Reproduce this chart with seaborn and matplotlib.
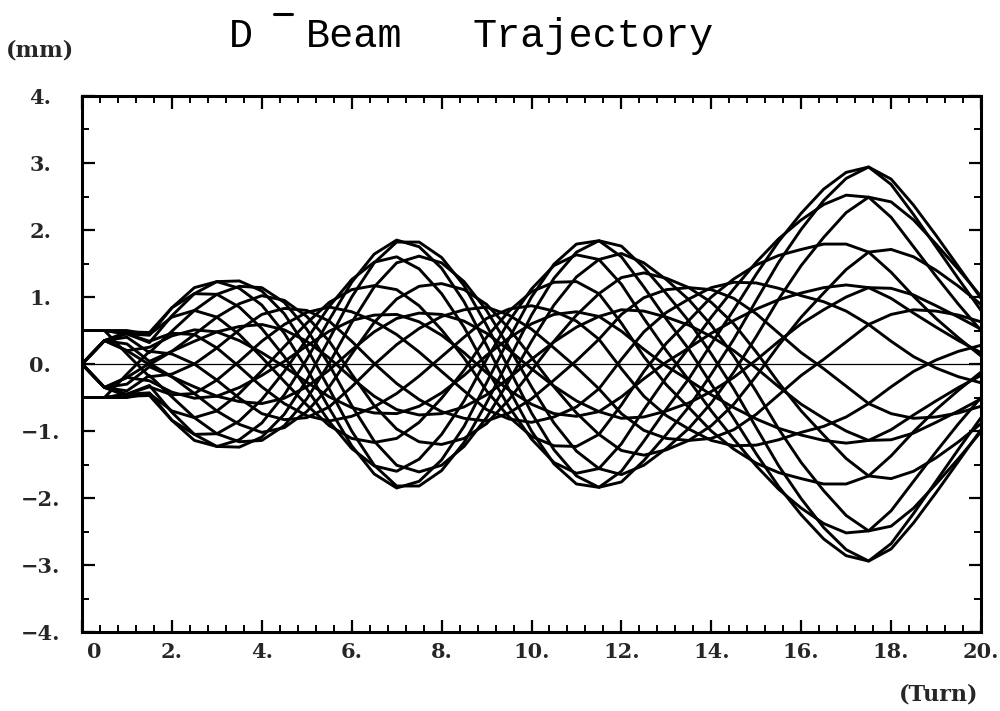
import matplotlib
matplotlib.use("Agg")
import matplotlib.pyplot as plt
from matplotlib.lines import Line2D
from matplotlib.ticker import MultipleLocator
from matplotlib.transforms import ScaledTranslation
import pandas as pd
import seaborn as sns

# Turn number of each sample (every half turn)
turns = [i * 0.5 for i in range(41)]

# Horizontal position (mm) of each tracked particle at each sampled turn
p01 = [0.5, 0.5, 0.45, 0.32, 0.72, 1.05, 1.23, 1.24, 1.09, 0.75, 0.24, -0.37, -1.00, -1.51, -1.82, -1.82, -1.59, -1.17, -0.58, 0.07, 0.73, 1.28, 1.67, 1.84, 1.76, 1.44, 1.05, 0.64, 0.15, -0.37, -0.95, -1.52, -2.01, -2.44, -2.77, -2.94, -2.76, -2.37, -1.92, -1.45, -0.98]
p02 = [0.0, 0.35, 0.40, 0.17, 0.49, 0.80, 1.04, 1.16, 1.14, 0.92, 0.52, -0.01, -0.62, -1.15, -1.51, -1.61, -1.51, -1.23, -0.80, -0.25, 0.34, 0.88, 1.30, 1.56, 1.65, 1.51, 1.26, 0.96, 0.58, 0.12, -0.41, -0.97, -1.47, -1.89, -2.26, -2.49, -2.42, -2.15, -1.79, -1.41, -1.01]
p03 = [0.0, 0.35, 0.20, -0.01, 0.19, 0.44, 0.70, 0.90, 1.02, 0.95, 0.71, 0.34, -0.15, -0.62, -0.97, -1.16, -1.20, -1.11, -0.89, -0.53, -0.10, 0.34, 0.73, 1.05, 1.29, 1.36, 1.28, 1.14, 0.92, 0.60, 0.18, -0.28, -0.70, -1.06, -1.41, -1.67, -1.71, -1.60, -1.40, -1.16, -0.89]
p04 = [0.5, 0.5, 0.15, -0.19, -0.15, 0.00, 0.24, 0.51, 0.74, 0.83, 0.80, 0.64, 0.34, 0.01, -0.29, -0.53, -0.71, -0.81, -0.85, -0.73, -0.52, -0.24, 0.05, 0.37, 0.74, 0.99, 1.11, 1.14, 1.11, 0.98, 0.75, 0.46, 0.17, -0.07, -0.33, -0.59, -0.74, -0.81, -0.79, -0.73, -0.63]
p05 = [0.0, -0.35, -0.45, -0.34, -0.46, -0.44, -0.24, 0.04, 0.34, 0.59, 0.77, 0.85, 0.78, 0.64, 0.44, 0.18, -0.11, -0.40, -0.68, -0.82, -0.87, -0.79, -0.64, -0.37, 0.07, 0.48, 0.77, 0.97, 1.14, 1.22, 1.21, 1.13, 1.02, 0.93, 0.79, 0.59, 0.34, 0.11, -0.06, -0.19, -0.28]
p06 = [-0.5, -0.5, -0.5, -0.44, -0.70, -0.80, -0.70, -0.44, -0.10, 0.26, 0.61, 0.92, 1.11, 1.17, 1.11, 0.87, 0.51, 0.09, -0.40, -0.79, -1.08, -1.22, -1.23, -1.05, -0.61, -0.11, 0.31, 0.65, 1.00, 1.27, 1.48, 1.62, 1.71, 1.79, 1.79, 1.67, 1.37, 1.01, 0.68, 0.39, 0.12]
p07 = [0.0, -0.35, -0.48, -0.47, -0.84, -1.05, -1.04, -0.85, -0.53, -0.11, 0.37, 0.86, 1.26, 1.52, 1.60, 1.42, 1.05, 0.55, -0.07, -0.64, -1.12, -1.47, -1.63, -1.56, -1.19, -0.68, -0.20, 0.24, 0.70, 1.12, 1.52, 1.87, 2.15, 2.38, 2.52, 2.49, 2.19, 1.75, 1.31, 0.89, 0.50]
p08 = [-0.5, -0.5, -0.45, -0.43, -0.84, -1.14, -1.23, -1.13, -0.88, -0.46, 0.07, 0.66, 1.22, 1.64, 1.85, 1.75, 1.43, 0.93, 0.28, -0.38, -1.00, -1.49, -1.79, -1.84, -1.60, -1.15, -0.67, -0.22, 0.30, 0.81, 1.34, 1.83, 2.25, 2.61, 2.86, 2.94, 2.68, 2.23, 1.75, 1.27, 0.80]
p09 = [0.0, 0.35, 0.30, 0.04, 0.19, 0.34, 0.48, 0.56, 0.59, 0.51, 0.34, 0.09, -0.21, -0.48, -0.68, -0.76, -0.74, -0.64, -0.46, -0.21, 0.07, 0.33, 0.55, 0.71, 0.81, 0.79, 0.70, 0.58, 0.41, 0.20, -0.06, -0.34, -0.60, -0.81, -1.00, -1.14, -1.13, -1.03, -0.87, -0.70, -0.52]
p10 = [0.0, -0.35, -0.20, -0.25, -0.42, -0.51, -0.48, -0.35, -0.17, 0.04, 0.27, 0.49, 0.65, 0.73, 0.74, 0.63, 0.43, 0.17, -0.13, -0.39, -0.60, -0.74, -0.78, -0.71, -0.49, -0.22, 0.03, 0.24, 0.46, 0.65, 0.82, 0.96, 1.06, 1.14, 1.18, 1.14, 0.98, 0.76, 0.55, 0.35, 0.17]
p11 = [-0.5, -0.5, -0.45, -0.32, -0.72, -1.05, -1.23, -1.24, -1.09, -0.75, -0.24, 0.37, 1.00, 1.51, 1.82, 1.82, 1.59, 1.17, 0.58, -0.07, -0.73, -1.28, -1.67, -1.84, -1.76, -1.44, -1.05, -0.64, -0.15, 0.37, 0.95, 1.52, 2.01, 2.44, 2.77, 2.94, 2.76, 2.37, 1.92, 1.45, 0.98]
p12 = [0.0, -0.35, -0.40, -0.17, -0.49, -0.80, -1.04, -1.16, -1.14, -0.92, -0.52, 0.01, 0.62, 1.15, 1.51, 1.61, 1.51, 1.23, 0.80, 0.25, -0.34, -0.88, -1.30, -1.56, -1.65, -1.51, -1.26, -0.96, -0.58, -0.12, 0.41, 0.97, 1.47, 1.89, 2.26, 2.49, 2.42, 2.15, 1.79, 1.41, 1.01]
p13 = [0.0, -0.35, -0.20, 0.01, -0.19, -0.44, -0.70, -0.90, -1.02, -0.95, -0.71, -0.34, 0.15, 0.62, 0.97, 1.16, 1.20, 1.11, 0.89, 0.53, 0.10, -0.34, -0.73, -1.05, -1.29, -1.36, -1.28, -1.14, -0.92, -0.60, -0.18, 0.28, 0.70, 1.06, 1.41, 1.67, 1.71, 1.60, 1.40, 1.16, 0.89]
p14 = [-0.5, -0.5, -0.15, 0.19, 0.15, 0.00, -0.24, -0.51, -0.74, -0.83, -0.80, -0.64, -0.34, -0.01, 0.29, 0.53, 0.71, 0.81, 0.85, 0.73, 0.52, 0.24, -0.05, -0.37, -0.74, -0.99, -1.11, -1.14, -1.11, -0.98, -0.75, -0.46, -0.17, 0.07, 0.33, 0.59, 0.74, 0.81, 0.79, 0.73, 0.63]
p15 = [0.0, 0.35, 0.45, 0.34, 0.46, 0.44, 0.24, -0.04, -0.34, -0.59, -0.77, -0.85, -0.78, -0.64, -0.44, -0.18, 0.11, 0.40, 0.68, 0.82, 0.87, 0.79, 0.64, 0.37, -0.07, -0.48, -0.77, -0.97, -1.14, -1.22, -1.21, -1.13, -1.02, -0.93, -0.79, -0.59, -0.34, -0.11, 0.06, 0.19, 0.28]
p16 = [0.5, 0.5, 0.5, 0.44, 0.70, 0.80, 0.70, 0.44, 0.10, -0.26, -0.61, -0.92, -1.11, -1.17, -1.11, -0.87, -0.51, -0.09, 0.40, 0.79, 1.08, 1.22, 1.23, 1.05, 0.61, 0.11, -0.31, -0.65, -1.00, -1.27, -1.48, -1.62, -1.71, -1.79, -1.79, -1.67, -1.37, -1.01, -0.68, -0.39, -0.12]
p17 = [0.0, 0.35, 0.48, 0.47, 0.84, 1.05, 1.04, 0.85, 0.53, 0.11, -0.37, -0.86, -1.26, -1.52, -1.60, -1.42, -1.05, -0.55, 0.07, 0.64, 1.12, 1.47, 1.63, 1.56, 1.19, 0.68, 0.20, -0.24, -0.70, -1.12, -1.52, -1.87, -2.15, -2.38, -2.52, -2.49, -2.19, -1.75, -1.31, -0.89, -0.50]
p18 = [0.5, 0.5, 0.45, 0.43, 0.84, 1.14, 1.23, 1.13, 0.88, 0.46, -0.07, -0.66, -1.22, -1.64, -1.85, -1.75, -1.43, -0.93, -0.28, 0.38, 1.00, 1.49, 1.79, 1.84, 1.60, 1.15, 0.67, 0.22, -0.30, -0.81, -1.34, -1.83, -2.25, -2.61, -2.86, -2.94, -2.68, -2.23, -1.75, -1.27, -0.80]
p19 = [0.0, -0.35, -0.30, -0.04, -0.19, -0.34, -0.48, -0.56, -0.59, -0.51, -0.34, -0.09, 0.21, 0.48, 0.68, 0.76, 0.74, 0.64, 0.46, 0.21, -0.07, -0.33, -0.55, -0.71, -0.81, -0.79, -0.70, -0.58, -0.41, -0.20, 0.06, 0.34, 0.60, 0.81, 1.00, 1.14, 1.13, 1.03, 0.87, 0.70, 0.52]
p20 = [0.0, 0.35, 0.20, 0.25, 0.42, 0.51, 0.48, 0.35, 0.17, -0.04, -0.27, -0.49, -0.65, -0.73, -0.74, -0.63, -0.43, -0.17, 0.13, 0.39, 0.60, 0.74, 0.78, 0.71, 0.49, 0.22, -0.03, -0.24, -0.46, -0.65, -0.82, -0.96, -1.06, -1.14, -1.18, -1.14, -0.98, -0.76, -0.55, -0.35, -0.17]
# Reference particle on the design orbit
p00 = [0.0] * 41

particles = {
    "p01": p01, "p02": p02, "p03": p03, "p04": p04, "p05": p05,
    "p06": p06, "p07": p07, "p08": p08, "p09": p09, "p10": p10,
    "p11": p11, "p12": p12, "p13": p13, "p14": p14, "p15": p15,
    "p16": p16, "p17": p17, "p18": p18, "p19": p19, "p20": p20,
}

xtick_vals = [0, 2, 4, 6, 8, 10, 12, 14, 16, 18, 20]
xtick_text = ["0", "2.", "4.", "6.", "8.", "10.", "12.", "14.", "16.", "18.", "20."]
ytick_vals = [-4, -3, -2, -1, 0, 1, 2, 3, 4]
ytick_text = ["\u22124.", "\u22123.", "\u22122.", "\u22121.", "0.", "1.", "2.", "3.", "4."]

rows = []
for name, vals in particles.items():
    for t, v in zip(turns, vals):
        rows.append((name, t, v))
df = pd.DataFrame(rows, columns=["particle", "turn", "pos"])
df_ref = pd.DataFrame({"particle": "p00", "turn": turns, "pos": p00})

sns.set_style("ticks")
plt.rcParams["font.family"] = ["DejaVu Serif", "DejaVu Sans"]

fig = plt.figure(figsize=(10, 7.11), dpi=100)
ax = fig.add_axes([0.082, 0.111, 0.899, 0.754])

sns.lineplot(data=df, x="turn", y="pos", units="particle", estimator=None,
             color="black", linewidth=2.1, legend=False, ax=ax)
sns.lineplot(data=df_ref, x="turn", y="pos", units="particle", estimator=None,
             color="black", linewidth=0.9, legend=False, ax=ax)

ax.set_xlim(0, 20)
ax.set_ylim(-4, 4)
ax.set_xlabel("")
ax.set_ylabel("")

ax.set_xticks(xtick_vals)
ax.set_xticklabels(xtick_text)
ax.set_yticks(ytick_vals)
ax.set_yticklabels(ytick_text)
ax.xaxis.set_minor_locator(MultipleLocator(0.4))
ax.yaxis.set_minor_locator(MultipleLocator(0.5))

for side in ax.spines.values():
    side.set_linewidth(2.2)
    side.set_color("black")

ax.tick_params(which="both", direction="in", top=True, right=True, color="black")
ax.tick_params(which="major", length=9, width=1.6)
ax.tick_params(which="minor", length=5, width=1.4)
ax.tick_params(axis="x", which="major", pad=7)
ax.tick_params(axis="y", which="major", pad=30)

for lab in ax.get_xticklabels() + ax.get_yticklabels():
    lab.set_fontweight("bold")
    lab.set_fontsize(15)
for lab in ax.get_yticklabels():
    lab.set_horizontalalignment("center")
# the origin label sits just right of the corner
ax.get_xticklabels()[0].set_transform(
    ax.get_xticklabels()[0].get_transform() + ScaledTranslation(0.12, 0, fig.dpi_scale_trans))

# Title in a typewriter face, with the charge sign as a raised bar
title_kw = dict(family="Liberation Mono", fontsize=29, va="baseline", ha="left", color="black")
fig.text(0.229, 1 - 47 / 711, "D", **title_kw)
fig.text(0.306, 1 - 47 / 711, "Beam", **title_kw)
fig.text(0.473, 1 - 47 / 711, "Trajectory", **title_kw)
fig.add_artist(Line2D([0.274, 0.292], [1 - 14 / 711, 1 - 14 / 711],
                      transform=fig.transFigure, color="black", lw=2.2))

fig.text(0.006, 1 - 57 / 711, "(mm)", fontsize=16, fontweight="bold",
         ha="left", va="baseline")
fig.text(0.978, 1 - 701 / 711, "(Turn)", fontsize=16, fontweight="bold",
         ha="right", va="baseline")

fig.savefig("out.png", dpi=100, facecolor="white")
